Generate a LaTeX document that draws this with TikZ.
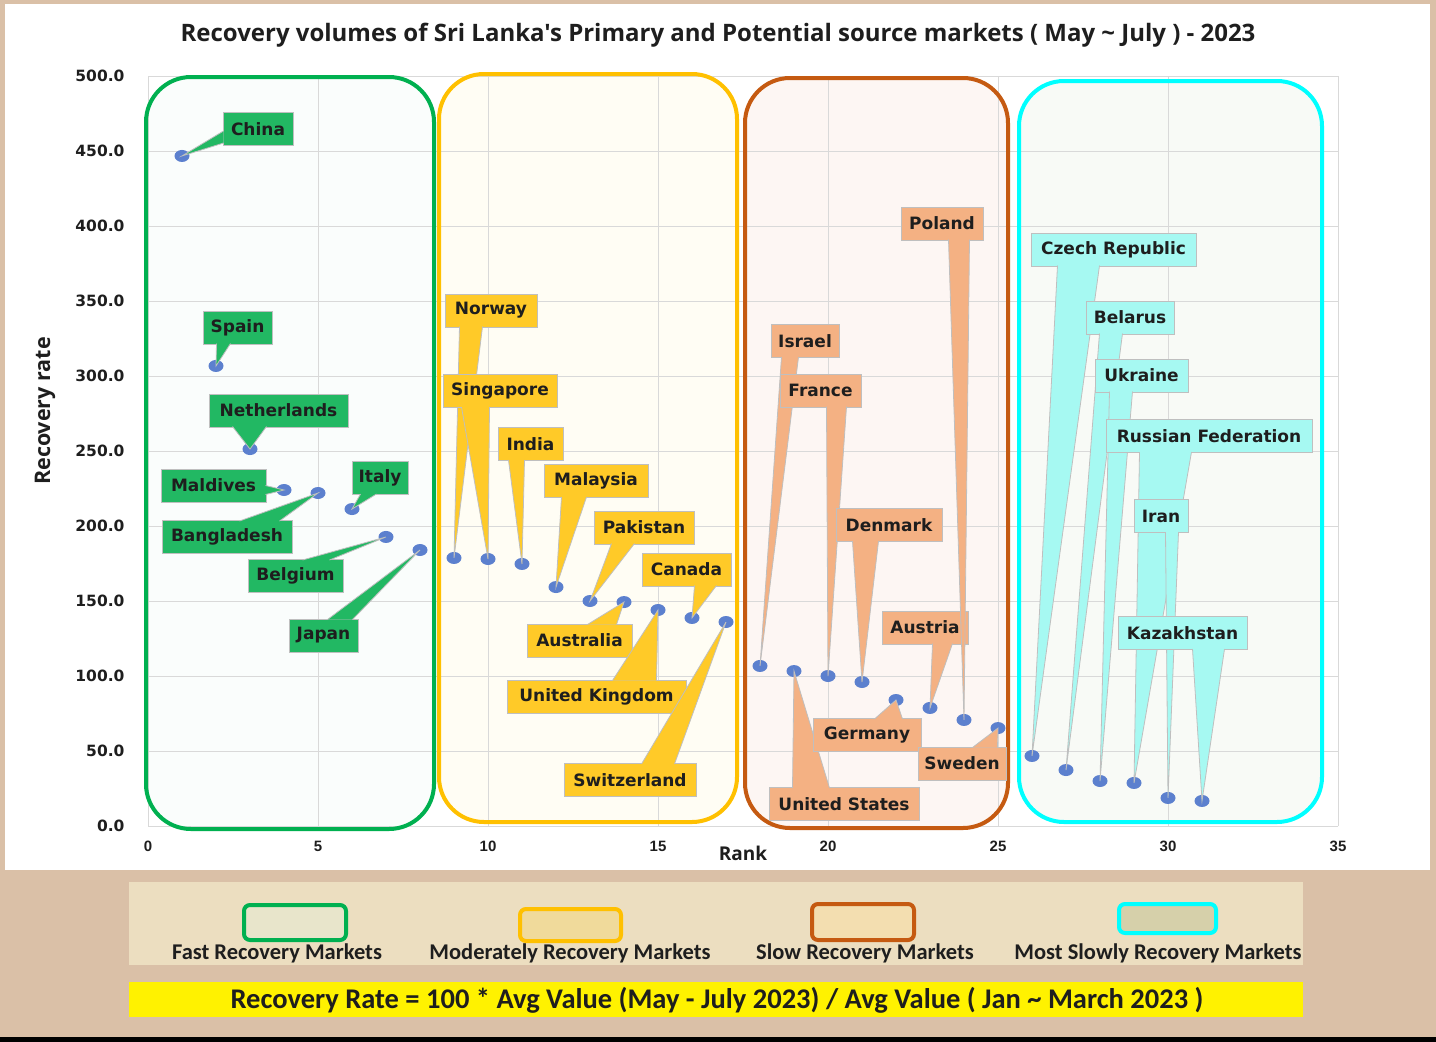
\documentclass[tikz,border=0pt]{standalone}
\usepackage{fontspec}
\setmainfont{DejaVu Sans}
\newfontfamily\opensans{Open Sans}
\newfontfamily\carlito{Carlito}
\newfontfamily\libsans{Liberation Sans}

\definecolor{tan}{RGB}{218,192,167}
\definecolor{legbg}{RGB}{236,222,192}
\definecolor{gridc}{RGB}{217,217,217}
\definecolor{cbord}{RGB}{191,191,191}
\definecolor{txt}{RGB}{30,30,30}
\definecolor{mk}{RGB}{92,128,206}
\definecolor{gline}{RGB}{0,176,80}
\definecolor{yline}{RGB}{255,192,0}
\definecolor{oline}{RGB}{197,90,17}
\definecolor{cline}{RGB}{0,255,255}
\definecolor{gfill}{RGB}{34,184,99}
\definecolor{yfill}{RGB}{255,202,40}
\definecolor{ofill}{RGB}{244,177,131}
\definecolor{cfill}{RGB}{166,249,242}
\definecolor{gtint}{RGB}{250,253,252}
\definecolor{ytint}{RGB}{255,253,244}
\definecolor{otint}{RGB}{253,246,243}
\definecolor{ctint}{RGB}{248,250,246}
\definecolor{gsw}{RGB}{232,229,203}
\definecolor{ysw}{RGB}{240,218,155}
\definecolor{osw}{RGB}{243,222,176}
\definecolor{csw}{RGB}{214,208,170}

\tikzset{
  lab/.style={draw=cbord, line width=1pt, minimum height=33pt, inner sep=0pt, text=txt,
    font=\fontsize{17}{20}\selectfont\bfseries},
  gbox/.style={lab, fill=gfill},
  ybox/.style={lab, fill=yfill},
  obox/.style={lab, fill=ofill},
  cbox/.style={lab, fill=cfill},
  gw/.style={fill=gfill, draw=cbord, line width=0.8pt},
  yw/.style={fill=yfill, draw=cbord, line width=0.8pt},
  ow/.style={fill=ofill, draw=cbord, line width=0.8pt},
  cw/.style={fill=cfill, draw=cbord, line width=0.8pt},
  region/.style={line width=4pt, rounded corners=45pt},
  swatch/.style={line width=4pt, rounded corners=6pt},
  ytick/.style={anchor=east, text=txt, font=\fontsize{15.5}{18}\selectfont\bfseries},
  xtick/.style={text=txt, font=\fontsize{15}{18}\selectfont\libsans\bfseries},
  legtxt/.style={text=txt, font=\fontsize{22.5}{26}\selectfont\carlito\bfseries}
}

\begin{document}
\begin{tikzpicture}[x=1pt, y=-1pt]
  \useasboundingbox (0,0) rectangle (1436,1042);
  % background
  \fill[tan] (0,0) rectangle (1436,1042);
  \fill[black] (0,1037) rectangle (1436,1042);
  \fill[white] (5,4) rectangle (1430,870);

  % market groups
  \fill[gtint, region] (146,77) rectangle (434,829);
  \fill[ytint, region] (439,74) rectangle (737,822);
  \fill[otint, region] (745,78) rectangle (1008,828);
  \fill[ctint, region] (1019,81) rectangle (1322,822);

  % data points, rank vs recovery rate
  \begin{scope}[shift={(148,826)}, x=34pt, y=1.5pt]
    \draw[gridc, line width=1pt] (0,0) grid[xstep=5, ystep=50] (35,500);
    \coordinate (cn) at (1,446.7);
    \coordinate (es) at (2,306.7);
    \coordinate (nl) at (3,251.3);
    \coordinate (mv) at (4,224);
    \coordinate (bd) at (5,222);
    \coordinate (it) at (6,211.3);
    \coordinate (be) at (7,192.7);
    \coordinate (jp) at (8,184);
    \coordinate (no) at (9,178.7);
    \coordinate (sg) at (10,178);
    \coordinate (ind) at (11,174.7);
    \coordinate (my) at (12,159.3);
    \coordinate (pk) at (13,150);
    \coordinate (au) at (14,149.3);
    \coordinate (gb) at (15,144);
    \coordinate (ca) at (16,138.7);
    \coordinate (ch) at (17,136);
    \coordinate (il) at (18,106.7);
    \coordinate (us) at (19,103.3);
    \coordinate (fr) at (20,100);
    \coordinate (dk) at (21,96);
    \coordinate (de) at (22,84);
    \coordinate (aut) at (23,78.7);
    \coordinate (pl) at (24,70.7);
    \coordinate (se) at (25,65.3);
    \coordinate (cz) at (26,46.7);
    \coordinate (by) at (27,37.3);
    \coordinate (ua) at (28,30);
    \coordinate (ru) at (29,28.7);
    \coordinate (ir) at (30,18.7);
    \coordinate (kz) at (31,16.7);
  \end{scope}

  \draw[gline, region] (146,77) rectangle (434,829);
  \draw[yline, region] (439,74) rectangle (737,822);
  \draw[oline, region] (745,78) rectangle (1008,828);
  \draw[cline, region] (1019,81) rectangle (1322,822);

  % titles
  \node[text=txt, font=\fontsize{24}{28}\selectfont\opensans\bfseries] (title) at (718,35)
    {Recovery volumes of Sri Lanka's Primary and Potential source markets ( May \textasciitilde{} July ) - 2023};
  \node[text=txt, font=\fontsize{19}{22}\selectfont\opensans\bfseries] (xlab) at (743,853) {Rank};
  \node[text=txt, rotate=90, font=\fontsize{21.5}{25}\selectfont\opensans\bfseries] (ylab) at (45,411) {Recovery rate};

  % axis numbers
  \node[ytick] (y0) at (128,826) {0.0};
  \node[ytick] (y50) at (128,751) {50.0};
  \node[ytick] (y100) at (128,676) {100.0};
  \node[ytick] (y150) at (128,601) {150.0};
  \node[ytick] (y200) at (128,526) {200.0};
  \node[ytick] (y250) at (128,451) {250.0};
  \node[ytick] (y300) at (128,376) {300.0};
  \node[ytick] (y350) at (128,301) {350.0};
  \node[ytick] (y400) at (128,226) {400.0};
  \node[ytick] (y450) at (128,151) {450.0};
  \node[ytick] (y500) at (128,76) {500.0};
  \node[xtick] (x0) at (148,846) {0};
  \node[xtick] (x5) at (318,846) {5};
  \node[xtick] (x10) at (488,846) {10};
  \node[xtick] (x15) at (658,846) {15};
  \node[xtick] (x20) at (828,846) {20};
  \node[xtick] (x25) at (998,846) {25};
  \node[xtick] (x30) at (1168,846) {30};
  \node[xtick] (x35) at (1338,846) {35};

  % markers
  \fill[mk] (cn) ellipse (7.5pt and 6pt) (es) ellipse (7.5pt and 6pt) (nl) ellipse (7.5pt and 6pt)
    (mv) ellipse (7.5pt and 6pt) (bd) ellipse (7.5pt and 6pt) (it) ellipse (7.5pt and 6pt)
    (be) ellipse (7.5pt and 6pt) (jp) ellipse (7.5pt and 6pt) (no) ellipse (7.5pt and 6pt)
    (sg) ellipse (7.5pt and 6pt) (ind) ellipse (7.5pt and 6pt) (my) ellipse (7.5pt and 6pt)
    (pk) ellipse (7.5pt and 6pt) (au) ellipse (7.5pt and 6pt) (gb) ellipse (7.5pt and 6pt)
    (ca) ellipse (7.5pt and 6pt) (ch) ellipse (7.5pt and 6pt) (il) ellipse (7.5pt and 6pt)
    (us) ellipse (7.5pt and 6pt) (fr) ellipse (7.5pt and 6pt) (dk) ellipse (7.5pt and 6pt)
    (de) ellipse (7.5pt and 6pt) (aut) ellipse (7.5pt and 6pt) (pl) ellipse (7.5pt and 6pt)
    (se) ellipse (7.5pt and 6pt) (cz) ellipse (7.5pt and 6pt) (by) ellipse (7.5pt and 6pt)
    (ua) ellipse (7.5pt and 6pt) (ru) ellipse (7.5pt and 6pt) (ir) ellipse (7.5pt and 6pt)
    (kz) ellipse (7.5pt and 6pt);

  % fast recovery
  \node[gbox, minimum width=70pt] (l-cn) at (258,129) {China};
  \filldraw[gw] ([xshift=1pt,yshift=-2pt]l-cn.west) -- (cn) -- ([xshift=1pt,yshift=-14pt]l-cn.west);
  \node[gbox, minimum width=69pt] (l-es) at (237.5,327.5) {Spain};
  \filldraw[gw] ([xshift=14pt,yshift=1pt]l-es.south west) -- (es) -- ([xshift=28pt,yshift=1pt]l-es.south west);
  \node[gbox, minimum width=139pt] (l-nl) at (278.5,410.5) {Netherlands};
  \filldraw[gw] ([xshift=24pt,yshift=1pt]l-nl.south west) -- (nl) -- ([xshift=58pt,yshift=1pt]l-nl.south west);
  \node[gbox, minimum width=105pt] (l-mv) at (213.5,485.5) {Maldives};
  \filldraw[gw] ([xshift=-1pt]l-mv.east) -- (mv) -- ([xshift=-1pt,yshift=-9pt]l-mv.east);
  \node[gbox, minimum width=130pt] (l-bd) at (227,537) {Bangladesh};
  \filldraw[gw] ([xshift=78pt,yshift=-1pt]l-bd.north west) -- (bd) -- ([xshift=118pt,yshift=-1pt]l-bd.north west);
  \node[gbox, minimum width=56pt] (l-it) at (380,478) {Italy};
  \filldraw[gw] ([xshift=9pt,yshift=1pt]l-it.south west) -- (it) -- ([xshift=25pt,yshift=1pt]l-it.south west);
  \node[gbox, minimum width=95pt] (l-be) at (295.5,576) {Belgium};
  \filldraw[gw] ([xshift=55pt,yshift=-1pt]l-be.north west) -- (be) -- ([xshift=82pt,yshift=-1pt]l-be.north west);
  \node[gbox, minimum width=69pt] (l-jp) at (323.5,635.5) {Japan};
  \filldraw[gw] ([xshift=39pt,yshift=-1pt]l-jp.north west) -- (jp) -- ([xshift=64pt,yshift=-1pt]l-jp.north west);

  % moderately recovery
  \node[ybox, minimum width=92pt] (l-no) at (491,310.5) {Norway};
  \filldraw[yw] ([xshift=15pt,yshift=1pt]l-no.south west) -- (no) -- ([xshift=38pt,yshift=1pt]l-no.south west);
  \node[ybox, minimum width=114pt] (l-sg) at (500,391) {Singapore};
  \filldraw[yw] ([xshift=19pt,yshift=1pt]l-sg.south west) -- (sg) -- ([xshift=47pt,yshift=1pt]l-sg.south west);
  \node[ybox, minimum width=65pt] (l-ind) at (530.5,444) {India};
  \filldraw[yw] ([xshift=11pt,yshift=1pt]l-ind.south west) -- (ind) -- ([xshift=27pt,yshift=1pt]l-ind.south west);
  \node[ybox, minimum width=104pt] (l-my) at (596,481) {Malaysia};
  \filldraw[yw] ([xshift=18pt,yshift=1pt]l-my.south west) -- (my) -- ([xshift=43pt,yshift=1pt]l-my.south west);
  \node[ybox, minimum width=100pt] (l-pk) at (644,527.5) {Pakistan};
  \filldraw[yw] ([xshift=18pt,yshift=1pt]l-pk.south west) -- (pk) -- ([xshift=41pt,yshift=1pt]l-pk.south west);
  \node[ybox, minimum width=105pt] (l-au) at (579.5,640.5) {Australia};
  \filldraw[yw] ([xshift=61pt,yshift=-1pt]l-au.north west) -- (au) -- ([xshift=90pt,yshift=-1pt]l-au.north west);
  \node[ybox, minimum width=179pt] (l-gb) at (596.5,696.5) {United Kingdom};
  \filldraw[yw] ([xshift=106pt,yshift=-1pt]l-gb.north west) -- (gb) -- ([xshift=150pt,yshift=-1pt]l-gb.north west);
  \node[ybox, minimum width=89pt] (l-ca) at (686.5,569.5) {Canada};
  \filldraw[yw] ([xshift=53pt,yshift=1pt]l-ca.south west) -- (ca) -- ([xshift=75pt,yshift=1pt]l-ca.south west);
  \node[ybox, minimum width=132pt] (l-ch) at (630,780) {Switzerland};
  \filldraw[yw] ([xshift=78pt,yshift=-1pt]l-ch.north west) -- (ch) -- ([xshift=111pt,yshift=-1pt]l-ch.north west);

  % slow recovery
  \node[obox, minimum width=68pt] (l-il) at (805,341) {Israel};
  \filldraw[ow] ([xshift=11pt,yshift=1pt]l-il.south west) -- (il) -- ([xshift=28pt,yshift=1pt]l-il.south west);
  \node[obox, minimum width=150pt] (l-us) at (844,804) {United States};
  \filldraw[ow] ([xshift=24pt,yshift=-1pt]l-us.north west) -- (us) -- ([xshift=61pt,yshift=-1pt]l-us.north west);
  \node[obox, minimum width=81pt] (l-fr) at (820.5,390.5) {France};
  \filldraw[ow] ([xshift=47pt,yshift=1pt]l-fr.south west) -- (fr) -- ([xshift=67pt,yshift=1pt]l-fr.south west);
  \node[obox, minimum width=106pt] (l-dk) at (889,525) {Denmark};
  \filldraw[ow] ([xshift=17pt,yshift=1pt]l-dk.south west) -- (dk) -- ([xshift=43pt,yshift=1pt]l-dk.south west);
  \node[obox, minimum width=108pt] (l-de) at (867,735) {Germany};
  \filldraw[ow] ([xshift=62pt,yshift=-1pt]l-de.north west) -- (de) -- ([xshift=90pt,yshift=-1pt]l-de.north west);
  \node[obox, minimum width=86pt] (l-aut) at (925,627.5) {Austria};
  \filldraw[ow] ([xshift=51pt,yshift=1pt]l-aut.south west) -- (aut) -- ([xshift=71pt,yshift=1pt]l-aut.south west);
  \node[obox, minimum width=82pt] (l-pl) at (942,223.5) {Poland};
  \filldraw[ow] ([xshift=48pt,yshift=1pt]l-pl.south west) -- (pl) -- ([xshift=69pt,yshift=1pt]l-pl.south west);
  \node[obox, minimum width=88pt] (l-se) at (962,763.5) {Sweden};
  \filldraw[ow] ([xshift=55pt,yshift=-1pt]l-se.north west) -- (se) -- ([xshift=80pt,yshift=-1pt]l-se.north west);

  % most slowly recovery
  \node[cbox, minimum width=165pt] (l-cz) at (1113.5,249.5) {Czech Republic};
  \filldraw[cw] ([xshift=27pt,yshift=1pt]l-cz.south west) -- (cz) -- ([xshift=69pt,yshift=1pt]l-cz.south west);
  \node[cbox, minimum width=88pt] (l-by) at (1130,317.5) {Belarus};
  \filldraw[cw] ([xshift=14pt,yshift=1pt]l-by.south west) -- (by) -- ([xshift=37pt,yshift=1pt]l-by.south west);
  \node[cbox, minimum width=93pt] (l-ua) at (1141.5,375.5) {Ukraine};
  \filldraw[cw] ([xshift=15pt,yshift=1pt]l-ua.south west) -- (ua) -- ([xshift=38pt,yshift=1pt]l-ua.south west);
  \node[cbox, minimum width=206pt] (l-ru) at (1209,436) {Russian Federation};
  \filldraw[cw] ([xshift=34pt,yshift=1pt]l-ru.south west) -- (ru) -- ([xshift=86pt,yshift=1pt]l-ru.south west);
  \node[cbox, minimum width=54pt] (l-ir) at (1161,516) {Iran};
  \filldraw[cw] ([xshift=32pt,yshift=1pt]l-ir.south west) -- (ir) -- ([xshift=45pt,yshift=1pt]l-ir.south west);
  \node[cbox, minimum width=129pt] (l-kz) at (1182.5,633) {Kazakhstan};
  \filldraw[cw] ([xshift=75pt,yshift=1pt]l-kz.south west) -- (kz) -- ([xshift=107pt,yshift=1pt]l-kz.south west);

  % legend
  \fill[legbg] (129,882) rectangle (1303,965);
  \filldraw[swatch, draw=gline, fill=gsw] (244,905) rectangle (346,940);
  \filldraw[swatch, draw=yline, fill=ysw] (520,909) rectangle (621,941);
  \filldraw[swatch, draw=oline, fill=osw] (812,904) rectangle (914,940);
  \filldraw[swatch, draw=cline, fill=csw] (1119,904) rectangle (1216,933);
  \node[legtxt] (fast) at (277,953) {Fast Recovery Markets};
  \node[legtxt] (moderate) at (570,953) {Moderately Recovery Markets};
  \node[legtxt] (slow) at (865,953) {Slow Recovery Markets};
  \node[legtxt] (slowest) at (1158,953) {Most Slowly Recovery Markets};

  % formula
  \fill[yellow] (129,982) rectangle (1303,1017);
  \node[text=txt, font=\fontsize{28.5}{32}\selectfont\carlito\bfseries] (formula) at (717,1000)
    {Recovery Rate = 100 * Avg Value (May - July 2023) / Avg Value ( Jan \textasciitilde{} March 2023 )};
\end{tikzpicture}
\end{document}
